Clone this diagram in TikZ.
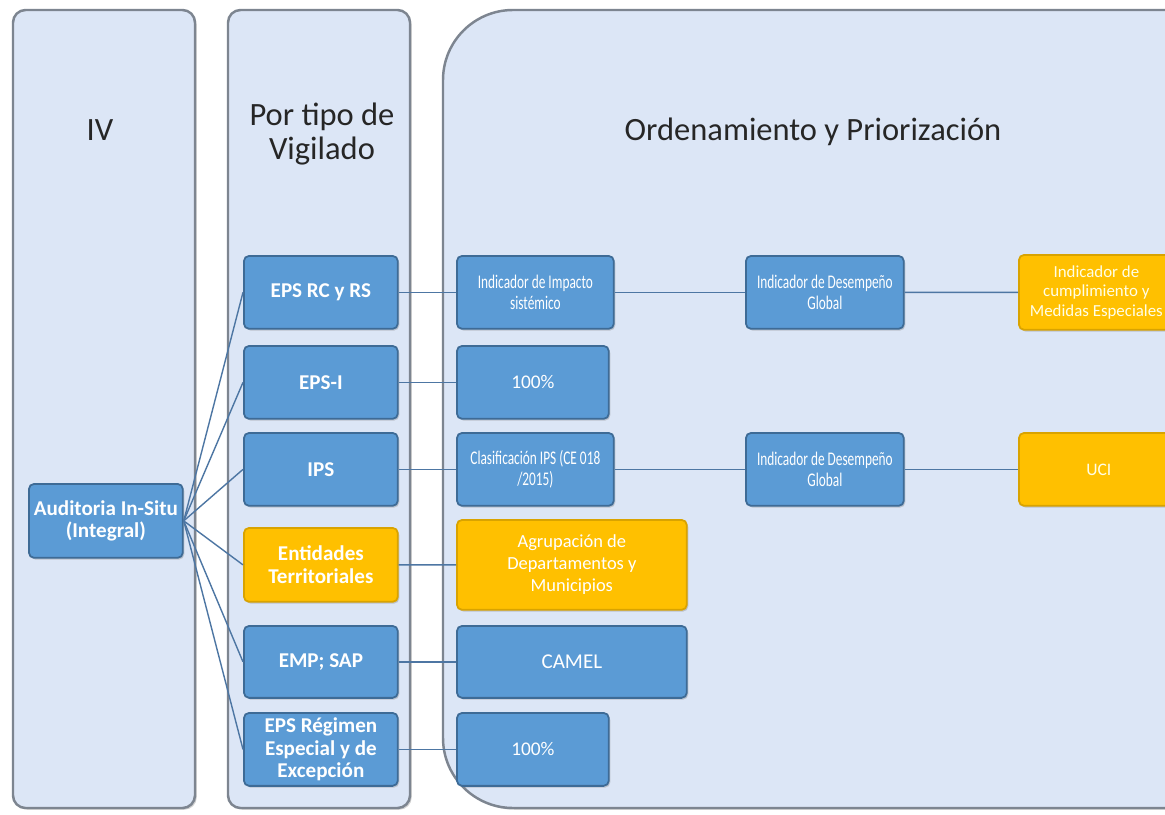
\documentclass[tikz,border=0pt]{standalone}
\usepackage{fontspec}
\setmainfont{Carlito}
\newfontfamily\condfont[FakeStretch=0.69]{Carlito}
\usetikzlibrary{shadows}
\definecolor{panelfill}{HTML}{DCE6F6}
\definecolor{panelborder}{HTML}{7D8590}
\definecolor{boxblue}{HTML}{5B9BD5}
\definecolor{blueborder}{HTML}{3E6B96}
\definecolor{boxyellow}{HTML}{FFC000}
\definecolor{yellowborder}{HTML}{D9A300}
\definecolor{linkcol}{HTML}{4D76A3}
\begin{document}
\begin{tikzpicture}[x=0.02cm,y=-0.02cm,
  panel/.style={draw=panelborder, line width=1.4pt, fill=panelfill,
    drop shadow={shadow xshift=1pt, shadow yshift=-1pt, opacity=0.35}},
  titletext/.style={align=center, text=black!85, font=\fontsize{18.5}{19.5}\selectfont},
  bbox/.style={draw=blueborder, line width=1pt, fill=boxblue, rounded corners=3pt,
    text=white, align=center, inner sep=1pt, anchor=north west,
    drop shadow={shadow xshift=0.8pt, shadow yshift=-1pt, opacity=0.35}},
  ybox/.style={bbox, fill=boxyellow, draw=yellowborder},
  sz/.style 2 args={minimum width=#1cm, minimum height=#2cm},
  boldtxt/.style={font=\bfseries\fontsize{12}{13}\selectfont},
  condtxt/.style={font=\condfont\fontsize{11}{11.8}\selectfont},
  normtxt/.style={font=\fontsize{10.5}{12.5}\selectfont},
  link/.style={draw=linkcol, line width=0.8pt}]
\useasboundingbox (0,0) rectangle (1165,814);
\clip (0,0) rectangle (1165,814);
\fill[white] (0,0) rectangle (1165,814);

% panels
\draw[panel, rounded corners=0.25cm] (13,10) rectangle (195,808);
\draw[panel, rounded corners=0.25cm] (228,10) rectangle (410,808);
\draw[panel, rounded corners=1.4cm] (443,10) rectangle (1260,808);

% titles
\node[titletext] (tIV) at (100,130) {IV};
\node[titletext] (tPor) at (322,134) {Por tipo de\\Vigilado};
\node[titletext] (tOrd) at (813,132) {Ordenamiento y Priorización};

% column 1
\node[bbox, sz={3.08}{1.48}, boldtxt] (aud) at (28,483) {Auditoria In-Situ\\(Integral)};

% column 2
\node[bbox, sz={3.08}{1.46}, boldtxt] (c2a) at (243,255) {EPS RC y RS};
\node[bbox, sz={3.08}{1.46}, boldtxt] (c2b) at (243,345) {EPS-I};
\node[bbox, sz={3.08}{1.46}, boldtxt] (c2c) at (243,432) {IPS};
\node[ybox, sz={3.08}{1.48}, boldtxt] (c2d) at (243,527) {Entidades\\Territoriales};
\node[bbox, sz={3.08}{1.44}, boldtxt] (c2e) at (243,625) {EMP; SAP};
\node[bbox, sz={3.08}{1.46}, font=\bfseries\fontsize{12}{12.6}\selectfont, inner sep=0pt] (c2f) at (243,712) {EPS Régimen\\Especial y de\\Excepción};

% column 3
\node[bbox, sz={3.14}{1.46}, condtxt] (c3a) at (456,255) {Indicador de Impacto\\sistémico};
\node[bbox, sz={3.04}{1.46}, font=\fontsize{11}{12}\selectfont] (c3b) at (456,345) {100\%};
\node[bbox, sz={3.14}{1.46}, condtxt] (c3c) at (456,432) {Clasificación IPS (CE 018\\/2015)};
\node[ybox, sz={4.6}{1.8}, normtxt] (c3d) at (456,519) {Agrupación de\\Departamentos y\\Municipios};
\node[bbox, sz={4.6}{1.44}, font=\fontsize{12}{13}\selectfont] (c3e) at (456,625) {CAMEL};
\node[bbox, sz={3.04}{1.46}, font=\fontsize{11}{12}\selectfont] (c3f) at (456,712) {100\%};

% column 4
\node[bbox, sz={3.16}{1.46}, condtxt] (c4a) at (745,255) {Indicador de Desempeño\\Global};
\node[bbox, sz={3.16}{1.46}, condtxt] (c4b) at (745,432) {Indicador de Desempeño\\Global};

% column 5
\node[ybox, sz={3.1}{1.5}, font=\fontsize{9.6}{11.2}\selectfont, text=white!90!yellow] (c5a) at (1018,254) {Indicador de\\cumplimiento y\\Medidas Especiales};
\node[ybox, sz={3.2}{1.46}, font=\fontsize{10}{11.3}\selectfont, text=white!90!yellow] (c5b) at (1018,432) {UCI};

% connectors
\foreach \n in {c2a,c2b,c2c,c2d,c2e,c2f}
  \draw[link] (aud.east) -- (\n.west);
\draw[link] (c2a.east) -- (c3a.west);
\draw[link] (c2b.east) -- (c3b.west);
\draw[link] (c2c.east) -- (c3c.west);
\draw[link] (c2d.east) -- (c3d.west);
\draw[link] (c2e.east) -- (c3e.west);
\draw[link] (c2f.east) -- (c3f.west);
\draw[link] (c3a.east) -- (c4a.west);
\draw[link] (c4a.east) -- (c5a.west);
\draw[link] (c3c.east) -- (c4b.west);
\draw[link] (c4b.east) -- (c5b.west);
\end{tikzpicture}
\end{document}
